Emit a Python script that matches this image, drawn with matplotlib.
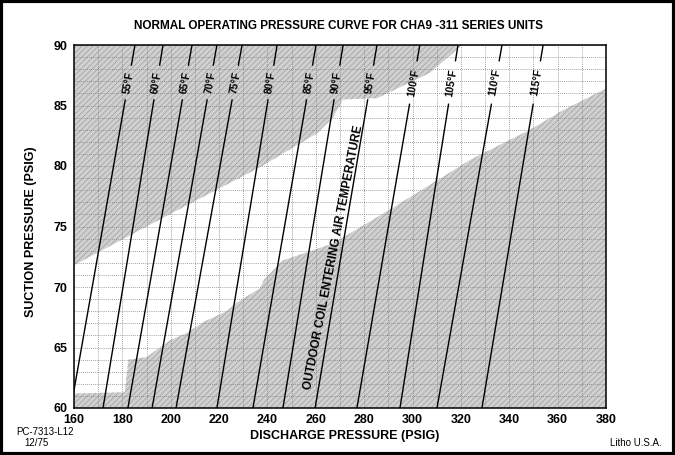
import matplotlib
matplotlib.use("Agg")
import matplotlib.pyplot as plt
from matplotlib.patches import Polygon, Rectangle
import numpy as np

plt.rcParams['font.family'] = ['Liberation Sans Narrow', 'Liberation Sans', 'DejaVu Sans']
plt.rcParams['hatch.linewidth'] = 0.45

# ---- data ----
temps = [55, 60, 65, 70, 75, 80, 85, 90, 95, 100, 105, 110, 115]
labels = [f"{t}°F" for t in temps]
discharge_at_60 = [158.7, 172.0, 182.3, 192.3, 202.2, 219.1, 234.0, 246.4, 259.7, 277.0, 294.8, 310.1, 328.7]
discharge_at_90 = [185.2, 196.8, 208.8, 219.1, 229.5, 244.0, 260.1, 271.3, 285.3, 303.0, 318.8, 337.0, 354.0]
suction_low, suction_high = 60, 90
label_suction = 86.9

upper_zone_x = [160, 160, 320.5, 307.2, 285.3, 271.2, 267.1, 260.5, 236.9, 198.5, 160]
upper_zone_y = [71.8, 90, 90, 87.7, 85.6, 85.5, 84.0, 82.7, 79.9, 75.9, 71.8]
lower_zone_x = [160, 160, 181.0, 182.5, 190.0, 199.7, 206.6, 213.5, 223.1, 227.3, 236.9, 238.6,
                246.4, 267.1, 290.7, 323.8, 348.6, 362.2, 380, 380]
lower_zone_y = [60, 61.2, 61.3, 64.0, 64.2, 65.6, 66.2, 67.1, 68.0, 68.7, 69.9, 70.6,
                72.2, 73.6, 76.4, 80.5, 83.0, 84.6, 86.4, 60]

x_ticks = list(range(160, 381, 20))
y_ticks = list(range(60, 91, 5))

# ---- figure ----
W, H = 675, 455
fig = plt.figure(figsize=(W / 100, H / 100), dpi=100)
fig.patch.set_facecolor('white')
ax = fig.add_axes([74 / W, 1 - 408 / H, 532 / W, 363 / H])
ax.set_xlim(160, 380)
ax.set_ylim(60, 90)

fill_kw = dict(facecolor='#d0d0d0', edgecolor='#999999', hatch='//////', linewidth=0, zorder=0.2)
ax.add_patch(Polygon(np.column_stack([upper_zone_x, upper_zone_y]), closed=True, **fill_kw))
ax.add_patch(Polygon(np.column_stack([lower_zone_x, lower_zone_y]), closed=True, **fill_kw))

ax.set_xticks(x_ticks)
ax.set_yticks(y_ticks)
ax.set_xticks(list(range(160, 381, 10)), minor=True)
ax.set_yticks(list(range(60, 91, 1)), minor=True)
ax.set_axisbelow(True)
ax.grid(which='both', linestyle=(0, (1, 1.5)), color='#808080', linewidth=0.6)
ax.tick_params(which='both', length=0)
ax.tick_params(axis='x', pad=4)
ax.tick_params(axis='y', pad=5)
for lab in ax.get_xticklabels() + ax.get_yticklabels():
    lab.set_fontweight('bold')
    lab.set_fontsize(9)
for s in ax.spines.values():
    s.set_linewidth(1.1)

# isotherm lines with gap for labels
fig.canvas.draw()
for t, lab, x0, x1 in zip(temps, labels, discharge_at_60, discharge_at_90):
    slope = (x1 - x0) / (suction_high - suction_low)
    xl = x0 + slope * (label_suction - suction_low)
    gap = 0.36 * len(lab)
    ya, yb = label_suction - gap, label_suction + gap
    ax.plot([x0, x0 + slope * (ya - suction_low)], [suction_low, ya], color='black', lw=1.0, zorder=3)
    ax.plot([x0 + slope * (yb - suction_low), x1], [yb, suction_high], color='black', lw=1.0, zorder=3)
    p0 = ax.transData.transform((x0, suction_low))
    p1 = ax.transData.transform((x1, suction_high))
    ang = np.degrees(np.arctan2(p1[1] - p0[1], p1[0] - p0[0]))
    ax.text(xl, label_suction, lab, rotation=ang, rotation_mode='anchor', ha='center', va='center',
            fontsize=7.5, fontweight='bold', zorder=4)

# diagonal annotation
ax.text(267.5, 72.4, 'OUTDOOR COIL ENTERING AIR TEMPERATURE', rotation=79, rotation_mode='anchor',
        ha='center', va='center', fontsize=8.5, fontweight='bold', zorder=4)

# figure texts
fig.text(338 / W, 1 - 26 / H, 'NORMAL OPERATING PRESSURE CURVE FOR CHA9 -311 SERIES UNITS',
         ha='center', va='center', fontsize=8.5, fontweight='bold')
fig.text(345 / W, 1 - 436 / H, 'DISCHARGE PRESSURE (PSIG)', ha='center', va='center',
         fontsize=9, fontweight='bold')
fig.text(31 / W, 1 - 232 / H, 'SUCTION PRESSURE (PSIG)', ha='center', va='center',
         rotation=90, fontsize=9, fontweight='bold')
fig.text(16 / W, 1 - 432 / H, 'PC-7313-L12', ha='left', va='center', fontsize=7)
fig.text(36 / W, 1 - 443 / H, '12/75', ha='center', va='center', fontsize=7)
fig.text(610 / W, 1 - 443 / H, 'Litho U.S.A.', ha='left', va='center', fontsize=7)

fig.patches.append(Rectangle((0.002, 0.003), 0.996, 0.994, transform=fig.transFigure,
                             fill=False, edgecolor='black', linewidth=3))

fig.savefig('out.png', dpi=100)
